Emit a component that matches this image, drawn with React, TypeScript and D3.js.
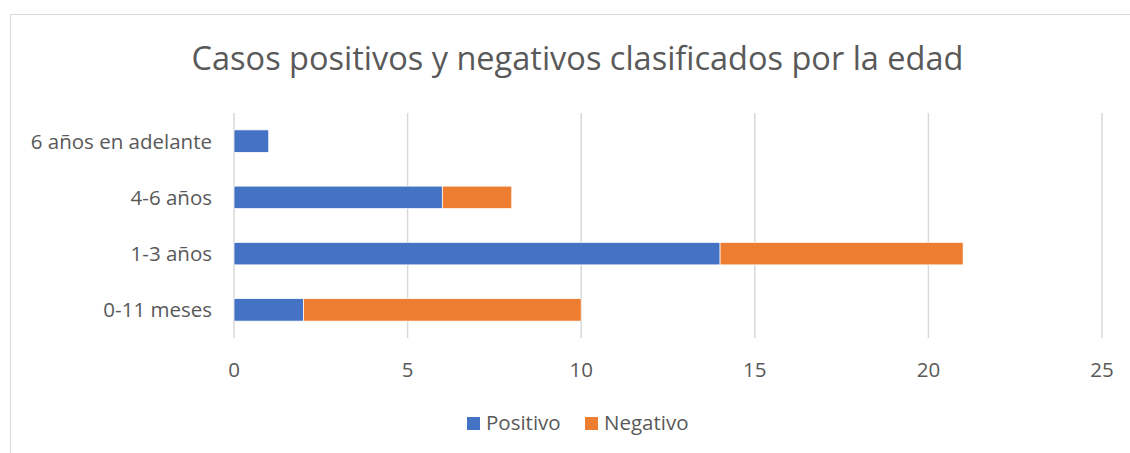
import React from "react";
import * as d3 from "d3";

const categories = ["6 años en adelante", "4-6 años", "1-3 años", "0-11 meses"];
const positivo = [1, 6, 14, 2];
const negativo = [0, 2, 7, 8];
const seriesNames = ["Positivo", "Negativo"];
const xTicks = [0, 5, 10, 15, 20, 25];
const title = "Casos positivos y negativos clasificados por la edad";

const W = 1130;
const H = 453;
const FONT = "'Open Sans', 'Liberation Sans', sans-serif";
const TEXT = "#595959";
const GRID = "#d9d9d9";
const COLORS = ["#4472c4", "#ed7d31"];

export default function App() {
  const x = d3.scaleLinear().domain([0, 25]).range([234, 1102]);
  const y = d3
    .scaleBand<string>()
    .domain(categories)
    .range([113, 338])
    .paddingInner(0.6)
    .paddingOuter(0.3);

  const rows = categories.map((c, i) => ({ cat: c, Positivo: positivo[i], Negativo: negativo[i] }));
  const stacked = d3.stack<any>().keys(seriesNames)(rows);

  const legendItems = [
    { name: "Positivo", sq: 467, tx: 486 },
    { name: "Negativo", sq: 585, tx: 604 },
  ];

  return (
    <svg
      width={W}
      height={H}
      style={{ position: "absolute", left: 0, top: 0, background: "#fff" }}
      fontFamily={FONT}
    >
      <rect x={10.5} y={14.5} width={W + 10} height={H + 10} fill="#fff" stroke="#d9d9d9" strokeWidth={1} />
      <text x={577.5} y={70} textAnchor="middle" fontSize={32.5} fill={TEXT}>
        {title}
      </text>
      {xTicks.map((t) => (
        <g key={t}>
          <line x1={x(t)} x2={x(t)} y1={113} y2={338} stroke={GRID} strokeWidth={1.5} />
          <text x={x(t)} y={377} textAnchor="middle" fontSize={20.5} fill={TEXT}>
            {t}
          </text>
        </g>
      ))}
      {stacked.map((s, si) =>
        s.map((d, i) =>
          d[1] - d[0] > 0 ? (
            <rect
              key={si + "-" + i}
              x={x(d[0])}
              y={y(categories[i])!}
              width={x(d[1]) - x(d[0])}
              height={y.bandwidth()}
              fill={COLORS[si]}
              stroke="#fff"
              strokeWidth={0.75}
            />
          ) : null
        )
      )}
      {categories.map((c) => (
        <text key={c} x={212} y={y(c)! + y.bandwidth() / 2 + 7.5} textAnchor="end" fontSize={20.5} fill={TEXT}>
          {c}
        </text>
      ))}
      {legendItems.map((l, i) => (
        <g key={l.name}>
          <rect x={l.sq} y={417} width={13} height={13} fill={COLORS[i]} />
          <text x={l.tx} y={430} fontSize={20.5} fill={TEXT}>
            {l.name}
          </text>
        </g>
      ))}
    </svg>
  );
}
